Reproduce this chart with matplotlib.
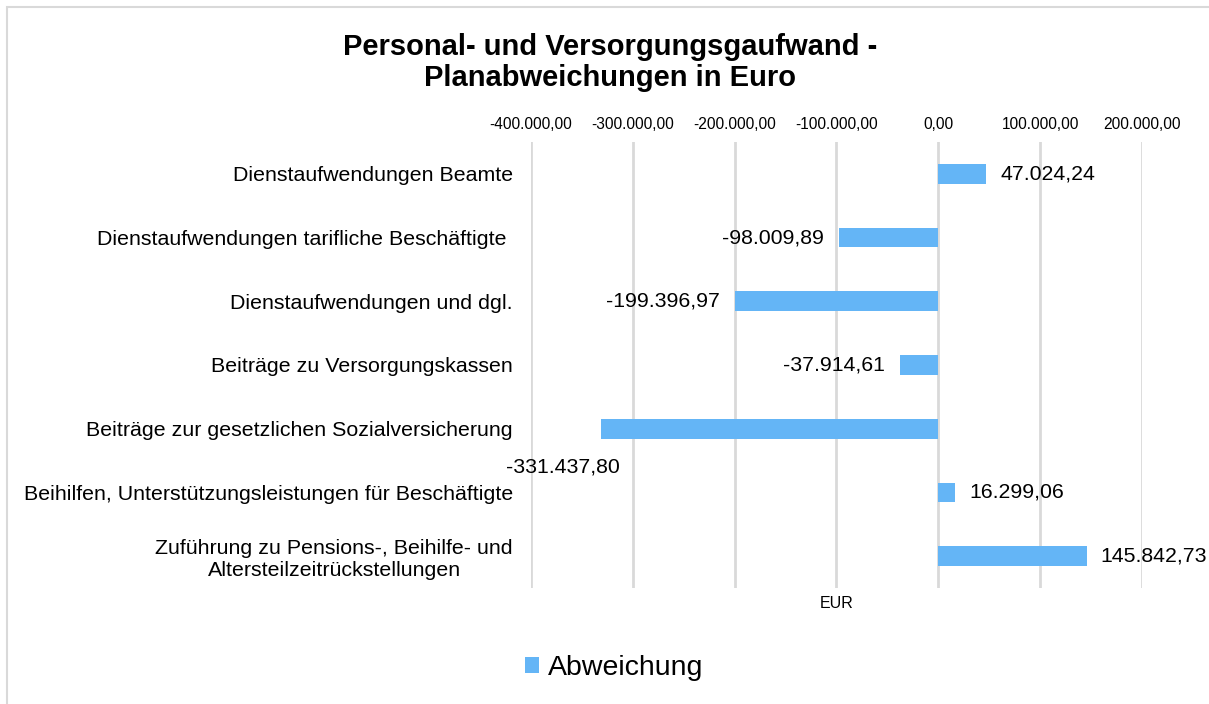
import matplotlib
matplotlib.use("Agg")
import matplotlib.pyplot as plt
from matplotlib.patches import Rectangle
from matplotlib.ticker import FuncFormatter

categories = [
    "Dienstaufwendungen Beamte",
    "Dienstaufwendungen tarifliche Beschäftigte ",
    "Dienstaufwendungen und dgl.",
    "Beiträge zu Versorgungskassen",
    "Beiträge zur gesetzlichen Sozialversicherung",
    "Beihilfen, Unterstützungsleistungen für Beschäftigte",
    "Zuführung zu Pensions-, Beihilfe- und\nAltersteilzeitrückstellungen",
]
values = [47024.24, -98009.89, -199396.97, -37914.61, -331437.80, 16299.06, 145842.73]
x_ticks = [-400000, -300000, -200000, -100000, 0, 100000, 200000]
series_name = "Abweichung"
title_lines = ["Personal- und Versorgungsgaufwand -", "Planabweichungen in Euro"]
x_label = "EUR"

BAR = "#64B5F6"
GRID = "#D9D9D9"
FONT = "Liberation Sans"

def de_fmt(v, decimals=2):
    s = f"{abs(v):,.{decimals}f}"
    s = s.replace(",", "X").replace(".", ",").replace("X", ".")
    return ("-" if v < 0 else "") + s

plt.rcParams["font.family"] = [FONT, "DejaVu Sans"]

W, H = 1209, 704
fig = plt.figure(figsize=(W / 100, H / 100), dpi=100)
fig.patch.set_facecolor("white")

# border
fig.patches.append(Rectangle((7 / W, -0.05), 1.1, 1 - 7 / H + 0.05, transform=fig.transFigure,
                             fill=False, edgecolor="#D9D9D9", linewidth=1.5, zorder=0))

ax = fig.add_axes([531 / W, 1 - 588 / H, (1142 - 531) / W, (588 - 142) / H])
y = list(range(len(categories)))
bars = ax.barh(y, values, height=0.31, color=BAR, zorder=3, label=series_name)
ax.set_ylim(len(categories) - 0.5, -0.5)
ax.set_xlim(-400000, 200000)
ax.set_xticks(x_ticks)
ax.xaxis.set_major_formatter(FuncFormatter(lambda v, p: de_fmt(v)))
ax.xaxis.tick_top()
ax.tick_params(axis="x", length=0, pad=7, labelsize=11.2, labelcolor="#000000")
ax.set_yticks(y)
ax.set_yticklabels(categories, fontsize=15.4, multialignment="center")
ax.tick_params(axis="y", length=0, pad=13)
for sp in ax.spines.values():
    sp.set_visible(False)
ax.grid(axis="x", color=GRID, linewidth=2, zorder=0)
ax.set_xlabel(x_label, fontsize=11.5, labelpad=6)
ax.xaxis.set_label_position("bottom")

for i, v in enumerate(values):
    txt = de_fmt(v)
    if v < -300000:
        ax.annotate(txt, (v, i), xytext=(-38, -38), textcoords="offset pixels",
                    ha="center", va="center", fontsize=15.3)
    elif v < 0:
        ax.annotate(txt, (v, i), xytext=(-15, 0), textcoords="offset pixels",
                    ha="right", va="center", fontsize=15.3)
    else:
        ax.annotate(txt, (v, i), xytext=(14, 0), textcoords="offset pixels",
                    ha="left", va="center", fontsize=15.3)

fig.text(610 / W, 1 - 47 / H, title_lines[0], ha="center", va="center", fontsize=21, fontweight="bold")
fig.text(610 / W, 1 - 78 / H, title_lines[1], ha="center", va="center", fontsize=21, fontweight="bold")

fig.legend(handles=[bars], labels=[series_name], loc="center", bbox_to_anchor=(614 / W, 1 - 668 / H),
           frameon=False, fontsize=20.5, handlelength=0.5, handleheight=0.5, handletextpad=0.3)

fig.savefig("out.png", dpi=100)
